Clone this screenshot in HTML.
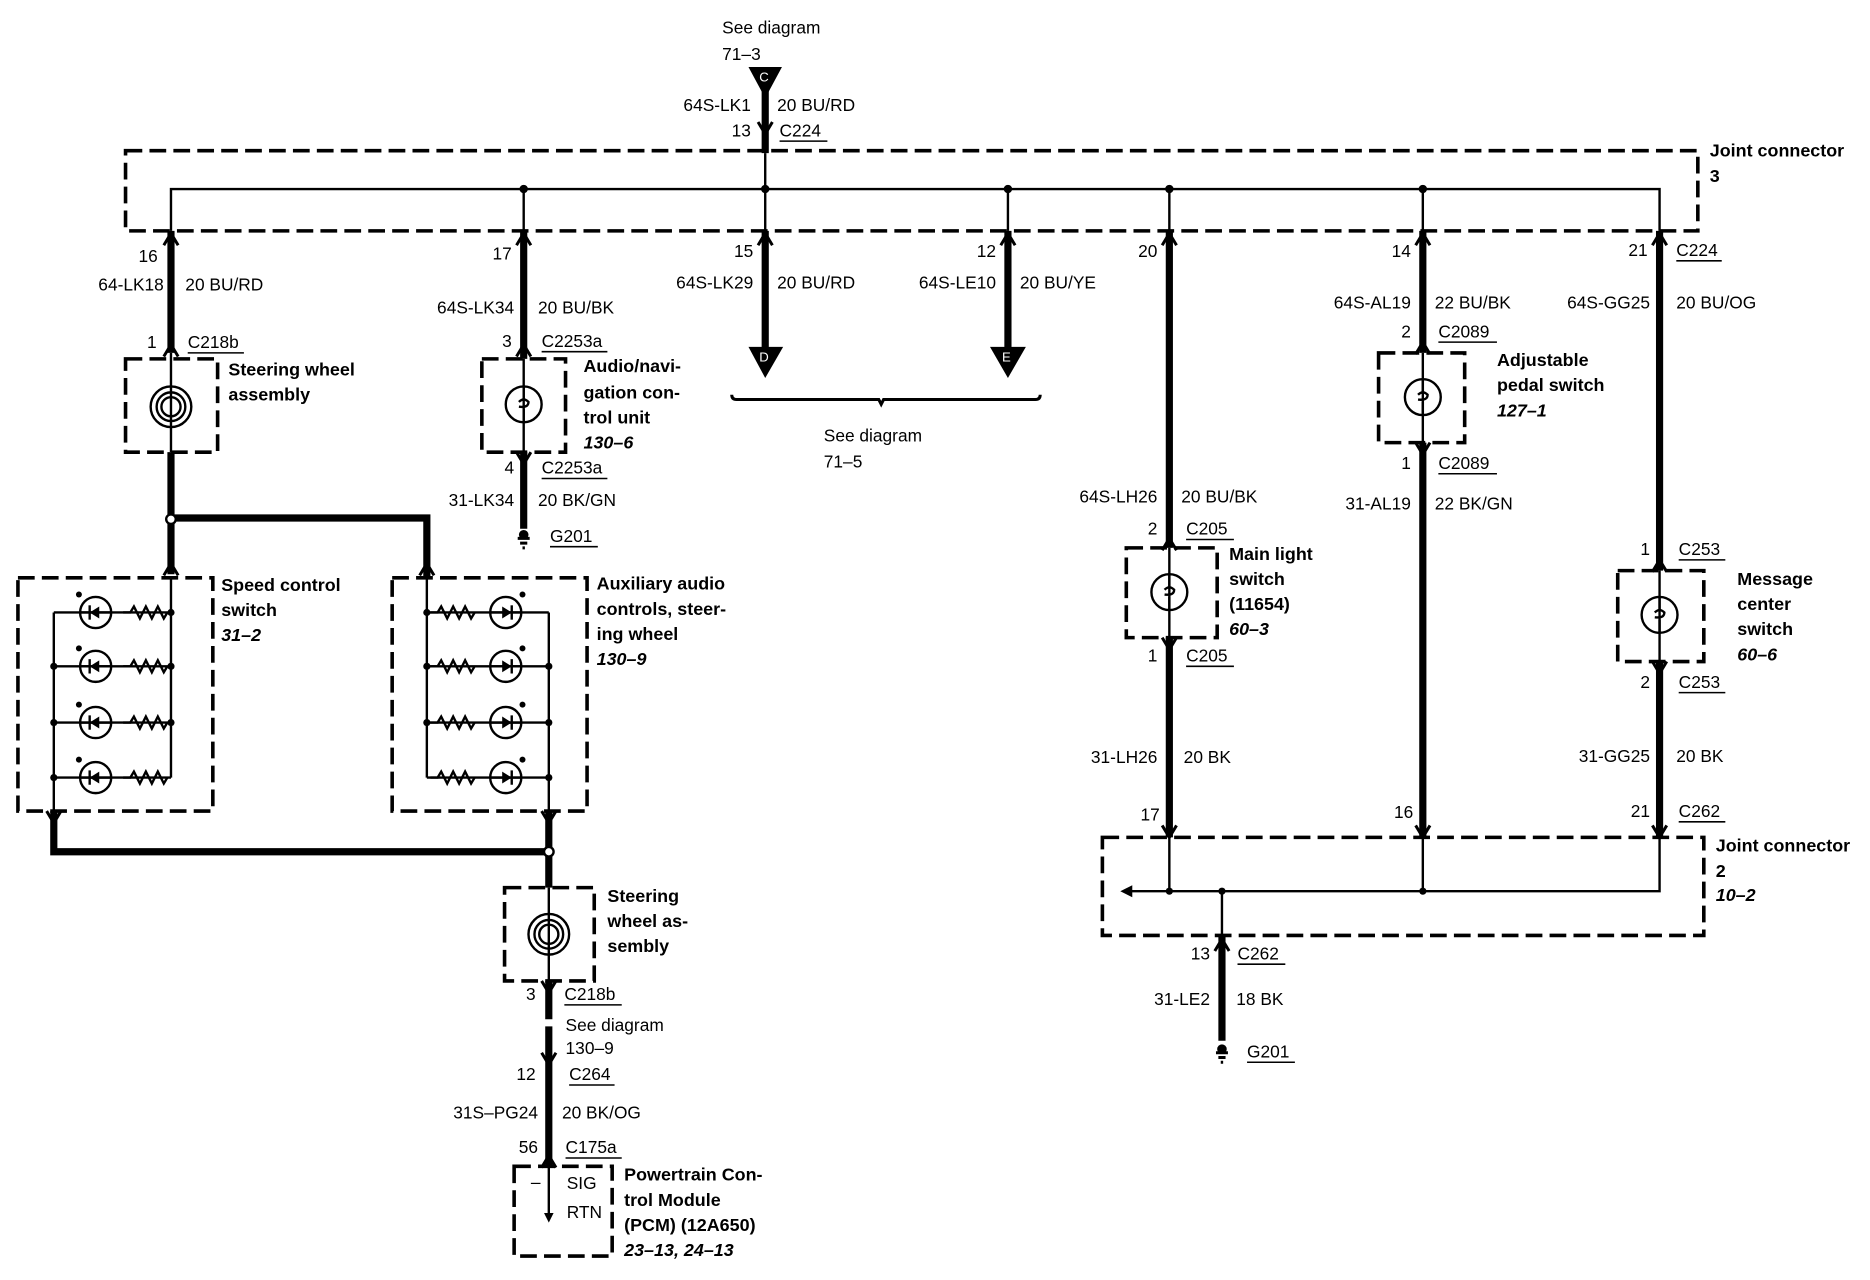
<!DOCTYPE html>
<html><head><meta charset="utf-8"><style>
html,body{margin:0;padding:0;background:#fff;}
svg{display:block;}
text{font-family:"Liberation Sans",Arial,sans-serif;font-size:14.5px;fill:#000;}
.b{font-weight:bold;font-size:15px;}
.i{font-weight:bold;font-style:italic;font-size:15px;}
.r{text-anchor:end;}
.dash{fill:none;stroke:#000;stroke-width:3;stroke-dasharray:14,6;}
.thin{stroke:#000;stroke-width:2;fill:none;}
.thick{stroke:#000;stroke-width:6;fill:none;}
.ul{stroke:#000;stroke-width:1.3;}
</style></head><body>
<svg width="1870" height="1280" viewBox="0 0 1564 1070" preserveAspectRatio="none" xmlns="http://www.w3.org/2000/svg">
<defs>
<g id="up"><path d="M-6,8 L0,-2 L6,8" fill="none" stroke="#000" stroke-width="2.5"/></g>
<g id="dn"><path d="M-6,-8 L0,2 L6,-8" fill="none" stroke="#000" stroke-width="2.5"/></g>
<g id="sw"><circle r="15" fill="none" stroke="#000" stroke-width="2"/><path d="M0,-15 L0,-4 M-4,-2 Q0,-6 4,-2 Q4,3 -4,2 M0,4 L0,15" fill="none" stroke="#000" stroke-width="2"/></g>
<g id="sp"><circle r="17" fill="none" stroke="#000" stroke-width="2"/><circle r="12" fill="none" stroke="#000" stroke-width="2"/><circle r="8" fill="none" stroke="#000" stroke-width="2"/></g>
<g id="led"><circle r="13" fill="none" stroke="#000" stroke-width="2"/><path d="M-13,0 L13,0" stroke="#000" stroke-width="2"/><path d="M-5,0 L3,-5 L3,5 Z" fill="#000"/><path d="M-5,-6 L-5,6" stroke="#000" stroke-width="2"/><circle cx="-14" cy="-15" r="2.5" fill="#000"/></g>
<g id="res"><path d="M0,0 L6,0 L9,-5 L14,5 L19,-5 L24,5 L29,-5 L34,5 L37,0" fill="none" stroke="#000" stroke-width="2"/></g>
<g id="gnd"><path d="M-5,0 L5,0 M-3,4 L3,4 M-1,8 L1,8" stroke="#000" stroke-width="2.5"/><circle cy="-3" r="4" fill="#000"/></g>
</defs>

<!-- top feed C -->
<text x="604" y="28">See diagram</text><text x="604" y="50">71–3</text>
<path d="M626,56 L654,56 L640,82 Z" fill="#000"/><text x="635" y="68" style="fill:#fff;font-size:11px">C</text>
<line x1="640" y1="70" x2="640" y2="128" class="thick"/>
<line x1="640" y1="128" x2="640" y2="158" class="thin"/>
<use href="#dn" x="640" y="110"/>
<text x="628" y="93" class="r">64S-LK1</text><text x="650" y="93">20 BU/RD</text>
<text x="628" y="114" class="r">13</text><text x="652" y="114">C224</text><line x1="652" y1="118" x2="692" y2="118" class="ul"/>

<!-- joint connector 3 -->
<rect x="105" y="126" width="1315" height="67" class="dash"/>
<text x="1430" y="131" class="b">Joint connector</text><text x="1430" y="152" class="b">3</text>
<path d="M143,193 L143,158 L1388,158 L1388,193" class="thin"/>
<g class="thin"><line x1="438" y1="158" x2="438" y2="193"/><line x1="640" y1="158" x2="640" y2="193"/><line x1="843" y1="158" x2="843" y2="193"/><line x1="978" y1="158" x2="978" y2="193"/><line x1="1190" y1="158" x2="1190" y2="193"/></g>
<g fill="#000"><circle cx="438" cy="158" r="3.5"/><circle cx="640" cy="158" r="3.5"/><circle cx="843" cy="158" r="3.5"/><circle cx="978" cy="158" r="3.5"/><circle cx="1190" cy="158" r="3.5"/></g>

<!-- wire 16 -->
<line x1="143" y1="193" x2="143" y2="295" class="thick"/>
<use href="#up" x="143" y="197"/><use href="#up" x="143" y="290"/>
<text x="132" y="219" class="r">16</text><text x="137" y="243" class="r">64-LK18</text><text x="155" y="243">20 BU/RD</text>
<text x="131" y="291" class="r">1</text><text x="157" y="291">C218b</text><line x1="157" y1="295" x2="204" y2="295" class="ul"/>
<rect x="105" y="300" width="77" height="78" class="dash"/>
<line x1="143" y1="295" x2="143" y2="378" class="thin"/>
<use href="#sp" x="143" y="340"/>
<text x="191" y="314" class="b">Steering wheel</text><text x="191" y="335" class="b">assembly</text>
<line x1="143" y1="378" x2="143" y2="480" class="thick"/>
<path d="M143,433 L357,433 L357,483" class="thick"/>
<circle cx="143" cy="434" r="4" fill="#fff" stroke="#000" stroke-width="2"/>
<use href="#up" x="143" y="473"/><use href="#up" x="357" y="473"/>

<!-- speed control -->
<rect x="15" y="483" width="163" height="195" class="dash"/>
<path d="M143,483 L143,650 M45,512 L45,712" class="thin"/>
<g>
<line x1="45" y1="512" x2="143" y2="512" class="thin"/><use href="#led" x="80" y="512"/><use href="#res" x="103" y="512"/>
<line x1="45" y1="557" x2="143" y2="557" class="thin"/><use href="#led" x="80" y="557"/><use href="#res" x="103" y="557"/>
<line x1="45" y1="604" x2="143" y2="604" class="thin"/><use href="#led" x="80" y="604"/><use href="#res" x="103" y="604"/>
<line x1="45" y1="650" x2="143" y2="650" class="thin"/><use href="#led" x="80" y="650"/><use href="#res" x="103" y="650"/>
<rect x="41" y="508" width="106" height="8" fill="#fff" opacity="0"/>
</g>
<g fill="#000"><circle cx="143" cy="512" r="3"/><circle cx="143" cy="557" r="3"/><circle cx="143" cy="604" r="3"/><circle cx="45" cy="557" r="3"/><circle cx="45" cy="604" r="3"/><circle cx="45" cy="650" r="3"/></g>
<text x="185" y="494" class="b">Speed control</text><text x="185" y="515" class="b">switch</text><text x="185" y="536" class="i">31–2</text>

<!-- aux audio -->
<rect x="328" y="483" width="163" height="195" class="dash"/>
<path d="M357,483 L357,650 M459,512 L459,678" class="thin"/>
<line x1="357" y1="512" x2="459" y2="512" class="thin"/><use href="#res" x="360" y="512"/><use href="#led" x="423" y="512" transform="translate(846,0) scale(-1,1)"/>
<line x1="357" y1="557" x2="459" y2="557" class="thin"/><use href="#res" x="360" y="557"/><use href="#led" x="423" y="557" transform="translate(846,0) scale(-1,1)"/>
<line x1="357" y1="604" x2="459" y2="604" class="thin"/><use href="#res" x="360" y="604"/><use href="#led" x="423" y="604" transform="translate(846,0) scale(-1,1)"/>
<line x1="357" y1="650" x2="459" y2="650" class="thin"/><use href="#res" x="360" y="650"/><use href="#led" x="423" y="650" transform="translate(846,0) scale(-1,1)"/>
<g fill="#000"><circle cx="357" cy="512" r="3"/><circle cx="357" cy="557" r="3"/><circle cx="357" cy="604" r="3"/><circle cx="459" cy="557" r="3"/><circle cx="459" cy="604" r="3"/><circle cx="459" cy="650" r="3"/></g>
<text x="499" y="493" class="b">Auxiliary audio</text><text x="499" y="514" class="b">controls, steer-</text><text x="499" y="535" class="b">ing wheel</text><text x="499" y="556" class="i">130–9</text>

<!-- bottom bus -->
<path d="M45,678 L45,712 L459,712" class="thick"/>
<line x1="459" y1="678" x2="459" y2="742" class="thick"/>
<use href="#dn" x="45" y="686"/><use href="#dn" x="459" y="686"/>
<circle cx="459" cy="712" r="4" fill="#fff" stroke="#000" stroke-width="2"/>

<!-- steering wheel 2 -->
<rect x="422" y="742" width="75" height="78" class="dash"/>
<line x1="459" y1="742" x2="459" y2="820" class="thin"/>
<use href="#sp" x="459" y="781"/>
<text x="508" y="754" class="b">Steering</text><text x="508" y="775" class="b">wheel as-</text><text x="508" y="796" class="b">sembly</text>
<line x1="459" y1="820" x2="459" y2="852" class="thick"/>
<line x1="459" y1="858" x2="459" y2="975" class="thick"/>
<use href="#dn" x="459" y="828"/><use href="#dn" x="459" y="888"/>
<text x="448" y="836" class="r">3</text><text x="472" y="836">C218b</text><line x1="472" y1="840" x2="520" y2="840" class="ul"/>
<text x="473" y="862">See diagram</text><text x="473" y="881">130–9</text>
<text x="448" y="903" class="r">12</text><text x="476" y="903">C264</text><line x1="476" y1="907" x2="514" y2="907" class="ul"/>
<text x="450" y="935" class="r">31S–PG24</text><text x="470" y="935">20 BK/OG</text>
<text x="450" y="964" class="r">56</text><text x="473" y="964">C175a</text><line x1="473" y1="968" x2="520" y2="968" class="ul"/>
<use href="#up" x="459" y="968"/>
<rect x="430" y="975" width="82" height="75" class="dash"/>
<line x1="459" y1="975" x2="459" y2="1018" class="thin"/><path d="M455,1014 L459,1022 L463,1014 Z" fill="#000"/>
<text x="444" y="993">–</text><text x="474" y="994">SIG</text><text x="474" y="1018">RTN</text>
<text x="522" y="987" class="b">Powertrain Con-</text><text x="522" y="1008" class="b">trol Module</text><text x="522" y="1029" class="b">(PCM) (12A650)</text><text x="522" y="1050" class="i">23–13, 24–13</text>

<!-- audio nav -->
<line x1="438" y1="193" x2="438" y2="300" class="thick"/>
<use href="#up" x="438" y="197"/><use href="#up" x="438" y="290"/>
<text x="428" y="217" class="r">17</text><text x="430" y="262" class="r">64S-LK34</text><text x="450" y="262">20 BU/BK</text>
<text x="428" y="290" class="r">3</text><text x="453" y="290">C2253a</text><line x1="453" y1="294" x2="508" y2="294" class="ul"/>
<rect x="403" y="300" width="70" height="78" class="dash"/>
<line x1="438" y1="300" x2="438" y2="378" class="thin"/><use href="#sw" x="438" y="338"/>
<text x="488" y="311" class="b">Audio/navi-</text><text x="488" y="333" class="b">gation con-</text><text x="488" y="354" class="b">trol unit</text><text x="488" y="375" class="i">130–6</text>
<line x1="438" y1="378" x2="438" y2="442" class="thick"/><use href="#dn" x="438" y="386"/>
<text x="430" y="396" class="r">4</text><text x="453" y="396">C2253a</text><line x1="453" y1="400" x2="508" y2="400" class="ul"/>
<text x="430" y="423" class="r">31-LK34</text><text x="450" y="423">20 BK/GN</text>
<use href="#gnd" x="438" y="450"/><text x="460" y="453">G201</text><line x1="460" y1="457" x2="500" y2="457" class="ul"/>

<!-- D and E -->
<line x1="640" y1="193" x2="640" y2="292" class="thick"/><use href="#up" x="640" y="197"/>
<path d="M626,290 L655,290 L640,316 Z" fill="#000"/><text x="635" y="302" style="fill:#fff;font-size:11px">D</text>
<text x="630" y="215" class="r">15</text><text x="630" y="241" class="r">64S-LK29</text><text x="650" y="241">20 BU/RD</text>
<line x1="843" y1="193" x2="843" y2="292" class="thick"/><use href="#up" x="843" y="197"/>
<path d="M828,290 L858,290 L843,316 Z" fill="#000"/><text x="838" y="302" style="fill:#fff;font-size:11px">E</text>
<text x="833" y="215" class="r">12</text><text x="833" y="241" class="r">64S-LE10</text><text x="853" y="241">20 BU/YE</text>
<path d="M612,330 Q612,334 616,334 L735,334 L737,338 L739,334 L866,334 Q870,334 870,330" fill="none" stroke="#000" stroke-width="2.5"/>
<text x="689" y="369">See diagram</text><text x="689" y="391">71–5</text>

<!-- main light -->
<line x1="978" y1="193" x2="978" y2="458" class="thick"/><use href="#up" x="978" y="197"/><use href="#up" x="978" y="452"/>
<text x="968" y="215" class="r">20</text>
<text x="968" y="420" class="r">64S-LH26</text><text x="988" y="420">20 BU/BK</text>
<text x="968" y="447" class="r">2</text><text x="992" y="447">C205</text><line x1="992" y1="451" x2="1032" y2="451" class="ul"/>
<rect x="942" y="458" width="76" height="75" class="dash"/>
<line x1="978" y1="458" x2="978" y2="533" class="thin"/><use href="#sw" x="978" y="495"/>
<text x="1028" y="468" class="b">Main light</text><text x="1028" y="489" class="b">switch</text><text x="1028" y="510" class="b">(11654)</text><text x="1028" y="531" class="i">60–3</text>
<line x1="978" y1="533" x2="978" y2="700" class="thick"/><use href="#dn" x="978" y="541"/><use href="#dn" x="978" y="698"/>
<text x="968" y="553" class="r">1</text><text x="992" y="553">C205</text><line x1="992" y1="557" x2="1032" y2="557" class="ul"/>
<text x="968" y="638" class="r">31-LH26</text><text x="990" y="638">20 BK</text>
<text x="970" y="686" class="r">17</text>

<!-- adjustable pedal -->
<line x1="1190" y1="193" x2="1190" y2="295" class="thick"/><use href="#up" x="1190" y="197"/><use href="#up" x="1190" y="288"/>
<text x="1180" y="215" class="r">14</text><text x="1180" y="258" class="r">64S-AL19</text><text x="1200" y="258">22 BU/BK</text>
<text x="1180" y="282" class="r">2</text><text x="1203" y="282">C2089</text><line x1="1203" y1="286" x2="1252" y2="286" class="ul"/>
<rect x="1153" y="295" width="72" height="75" class="dash"/>
<line x1="1190" y1="295" x2="1190" y2="370" class="thin"/><use href="#sw" x="1190" y="332"/>
<text x="1252" y="306" class="b">Adjustable</text><text x="1252" y="327" class="b">pedal switch</text><text x="1252" y="348" class="i">127–1</text>
<line x1="1190" y1="370" x2="1190" y2="700" class="thick"/><use href="#dn" x="1190" y="378"/><use href="#dn" x="1190" y="698"/>
<text x="1180" y="392" class="r">1</text><text x="1203" y="392">C2089</text><line x1="1203" y1="396" x2="1252" y2="396" class="ul"/>
<text x="1180" y="426" class="r">31-AL19</text><text x="1200" y="426">22 BK/GN</text>
<text x="1182" y="684" class="r">16</text>

<!-- message center -->
<line x1="1388" y1="193" x2="1388" y2="477" class="thick"/><use href="#up" x="1388" y="197"/><use href="#up" x="1388" y="470"/>
<text x="1378" y="214" class="r">21</text><text x="1402" y="214">C224</text><line x1="1402" y1="218" x2="1440" y2="218" class="ul"/>
<text x="1380" y="258" class="r">64S-GG25</text><text x="1402" y="258">20 BU/OG</text>
<text x="1380" y="464" class="r">1</text><text x="1404" y="464">C253</text><line x1="1404" y1="468" x2="1443" y2="468" class="ul"/>
<rect x="1353" y="477" width="72" height="76" class="dash"/>
<line x1="1388" y1="477" x2="1388" y2="553" class="thin"/><use href="#sw" x="1388" y="514"/>
<text x="1453" y="489" class="b">Message</text><text x="1453" y="510" class="b">center</text><text x="1453" y="531" class="b">switch</text><text x="1453" y="552" class="i">60–6</text>
<line x1="1388" y1="553" x2="1388" y2="700" class="thick"/><use href="#dn" x="1388" y="561"/><use href="#dn" x="1388" y="698"/>
<text x="1380" y="575" class="r">2</text><text x="1404" y="575">C253</text><line x1="1404" y1="579" x2="1443" y2="579" class="ul"/>
<text x="1380" y="637" class="r">31-GG25</text><text x="1402" y="637">20 BK</text>
<text x="1380" y="683" class="r">21</text><text x="1404" y="683">C262</text><line x1="1404" y1="687" x2="1443" y2="687" class="ul"/>

<!-- joint connector 2 -->
<rect x="922" y="700" width="503" height="82" class="dash"/>
<text x="1435" y="712" class="b">Joint connector</text><text x="1435" y="733" class="b">2</text><text x="1435" y="753" class="i">10–2</text>
<path d="M945,745 L1388,745 L1388,700 M978,700 L978,745 M1190,700 L1190,745 M1022,745 L1022,782" class="thin"/>
<path d="M937,745 L947,740 L947,750 Z" fill="#000"/>
<g fill="#000"><circle cx="978" cy="745" r="3"/><circle cx="1022" cy="745" r="3"/><circle cx="1190" cy="745" r="3"/></g>
<line x1="1022" y1="782" x2="1022" y2="870" class="thick"/><use href="#up" x="1022" y="787"/>
<text x="1012" y="802" class="r">13</text><text x="1035" y="802">C262</text><line x1="1035" y1="806" x2="1075" y2="806" class="ul"/>
<text x="1012" y="840" class="r">31-LE2</text><text x="1034" y="840">18 BK</text>
<use href="#gnd" x="1022" y="880"/><text x="1043" y="884">G201</text><line x1="1043" y1="888" x2="1083" y2="888" class="ul"/>
</svg>
</body></html>
